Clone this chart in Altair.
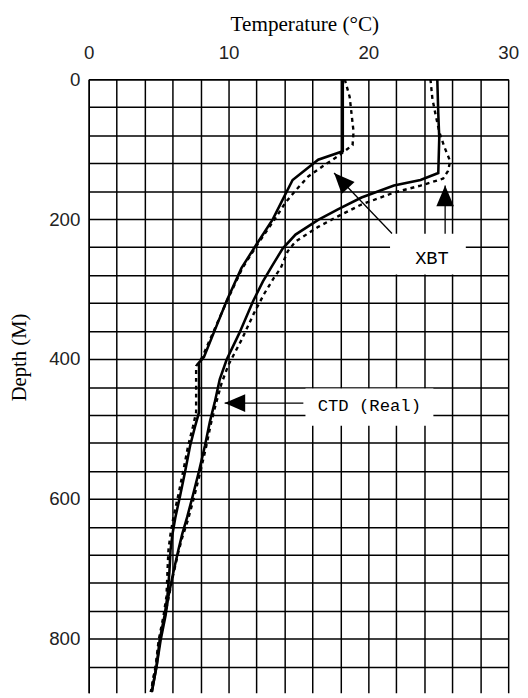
import altair as alt
import pandas as pd

# ---- data (temperature °C, depth m) ----
ctd1_t = [18.17, 18.17, 16.41, 14.58, 13.87, 13.17, 11.97, 10.92, 9.86, 9.01, 8.24, 7.89, 7.89, 7.61, 7.25,
          6.90, 6.55, 6.20, 5.99, 5.85, 5.77, 5.63, 5.42, 5.07, 4.86, 4.51]
ctd1_d = [0, 103, 115, 144, 172, 200, 237, 270, 317, 359, 397, 405, 476, 496, 524,
          560, 594, 626, 650, 673, 704, 739, 767, 802, 838, 876]

xbt1_t = [18.31, 18.66, 18.94, 18.87, 17.82, 16.76, 15.70, 14.79, 14.08, 13.31, 12.04, 10.99, 9.86, 8.94, 8.10,
          7.68, 7.68, 7.46, 7.11, 6.76, 6.41, 6.06, 5.85, 5.70, 5.63, 5.56, 5.35, 5.00, 4.79, 4.44]
xbt1_d = [0, 25, 75, 94, 110, 124, 139, 159, 176, 200, 237, 270, 318, 360, 398,
          410, 476, 496, 524, 560, 594, 626, 650, 673, 704, 739, 767, 802, 838, 876]

ctd2_t = [24.93, 25.00, 25.07, 25.00, 23.73, 21.83, 19.51, 17.82, 16.41, 14.79, 13.87, 13.17, 12.46, 11.76, 10.77,
          9.86, 9.37, 9.01, 8.66, 8.31, 7.89, 7.46, 7.04, 6.69, 6.41, 6.06, 5.70, 5.49, 5.14, 4.86, 4.51]
ctd2_d = [0, 49, 84, 134, 144, 152, 169, 186, 201, 222, 242, 265, 289, 317, 363,
          401, 429, 462, 490, 524, 560, 594, 626, 650, 673, 704, 739, 767, 802, 838, 876]

xbt2_t = [24.44, 24.58, 24.79, 25.07, 25.42, 25.85, 25.70, 25.35, 23.73, 21.83, 19.51, 17.82, 16.41, 14.79, 14.23,
          13.73, 13.24, 12.54, 11.83, 10.92, 10.00, 9.51, 9.08, 8.73, 8.38, 7.96, 7.54, 7.11, 6.69, 6.41,
          6.06, 5.70, 5.42, 5.07, 4.79, 4.44]
xbt2_d = [0, 28, 49, 75, 96, 117, 131, 142, 152, 162, 179, 196, 211, 232, 246,
          270, 284, 307, 334, 373, 408, 434, 465, 493, 527, 563, 597, 629, 655, 676,
          707, 742, 770, 804, 839, 876]

x_grid = list(range(0, 31, 2))
y_grid = list(range(0, 841, 40))

# annotation boxes, labels and arrows (data coordinates)
box_x = [21.55, 15.5]
box_x2 = [26.97, 24.65]
box_y = [221, 442]
box_y2 = [279, 495.5]
label_text = ["XBT", "CTD (Real)"]
label_x = [24.55, 20.07]
label_y = [256, 467]
label_size = [19, 17.5]

shaft_x = [21.69, 25.49, 15.35]
shaft_y = [220.5, 221, 463]
shaft_x2 = [17.55, 25.49, 9.72]
shaft_y2 = [134, 152, 463]
head_x = [17.55, 25.49, 9.72]
head_y = [134, 152, 463]
head_angle = [317, 0, 270]

# ---- tables ----
rows = []
for name, ts, ds in [("CTD A", ctd1_t, ctd1_d), ("CTD B", ctd2_t, ctd2_d)]:
    for i, (t, d) in enumerate(zip(ts, ds)):
        rows.append({"series": name, "T": t, "D": d, "o": i})
ctd_df = pd.DataFrame(rows)
rows = []
for name, ts, ds in [("XBT A", xbt1_t, xbt1_d), ("XBT B", xbt2_t, xbt2_d)]:
    for i, (t, d) in enumerate(zip(ts, ds)):
        rows.append({"series": name, "T": t, "D": d, "o": i})
xbt_df = pd.DataFrame(rows)

box_df = pd.DataFrame({"x": box_x, "x2": box_x2, "y": box_y, "y2": box_y2})
lab_df = pd.DataFrame({"text": label_text, "x": label_x, "y": label_y, "s": label_size})
shaft_df = pd.DataFrame({"x": shaft_x, "y": shaft_y, "x2": shaft_x2, "y2": shaft_y2})
head_df = pd.DataFrame({"x": head_x, "y": head_y, "a": head_angle})

xs = alt.Scale(domain=[0, 30], nice=False, zero=False)
ys = alt.Scale(domain=[0, 877], reverse=True, nice=False, zero=False)

x_axis = alt.Axis(
    orient="top", values=x_grid, tickCount=200, format="d", grid=True, gridColor="#000", gridWidth=1.5, gridOpacity=1,
    domain=True, domainColor="#000", domainWidth=1.5, ticks=False, tickSize=0,
    labelExpr="datum.value % 10 == 0 ? datum.label : ''", labelOverlap=False,
    labelFont="Liberation Sans", labelFontSize=19, labelColor="#222",
    labelBaseline="middle", labelPadding=27, labelFlush=False,
    title="Temperature (°C)", titleFont="Liberation Serif", titleFontSize=21.5,
    titleFontWeight="normal", titleColor="#000", titleX=219, titleY=-56,
    titleAlign="center", titleBaseline="middle",
)
y_axis = alt.Axis(
    orient="left", values=y_grid, tickCount=200, format="d", grid=True, gridColor="#000", gridWidth=1.5, gridOpacity=1,
    domain=True, domainColor="#000", domainWidth=1.5, ticks=False, tickSize=0,
    labelExpr="datum.value % 200 == 0 ? datum.label : ''", labelOverlap=False,
    labelFont="Liberation Sans", labelFontSize=19, labelColor="#222",
    labelBaseline="middle", labelAlign="right", labelPadding=9, labelFlush=False,
    title="Depth (M)", titleFont="Liberation Serif", titleFontSize=21,
    titleFontWeight="normal", titleColor="#000", titleAngle=270, titleX=-70, titleY=282,
    titleAlign="center", titleBaseline="middle",
)

ctd = alt.Chart(ctd_df).mark_line(color="#000", strokeWidth=2.6).encode(
    x=alt.X("T:Q", scale=xs, axis=x_axis),
    y=alt.Y("D:Q", scale=ys, axis=y_axis),
    detail="series:N",
    order="o:Q",
)
xbt = alt.Chart(xbt_df).mark_line(color="#000", strokeWidth=2.4, strokeDash=[4, 4]).encode(
    x=alt.X("T:Q", scale=xs),
    y=alt.Y("D:Q", scale=ys),
    detail="series:N",
    order="o:Q",
)
boxes = alt.Chart(box_df).mark_rect(fill="white", stroke=None).encode(
    x=alt.X("x:Q", scale=xs), x2="x2:Q",
    y=alt.Y("y:Q", scale=ys), y2="y2:Q",
)
labels = alt.Chart(lab_df).mark_text(font="Liberation Mono", color="#000",
                                     align="center", baseline="middle").encode(
    x=alt.X("x:Q", scale=xs), y=alt.Y("y:Q", scale=ys), text="text:N",
    size=alt.Size("s:Q", scale=None),
)
shafts = alt.Chart(shaft_df).mark_rule(color="#000", strokeWidth=1.3).encode(
    x=alt.X("x:Q", scale=xs), y=alt.Y("y:Q", scale=ys), x2="x2:Q", y2="y2:Q",
)
heads = alt.Chart(head_df).mark_point(
    shape="M0,0L-0.47,1.1L0.47,1.1Z", filled=True, fill="#000", stroke=None,
    size=1444, opacity=1,
).encode(
    x=alt.X("x:Q", scale=xs), y=alt.Y("y:Q", scale=ys),
    angle=alt.Angle("a:Q", scale=None),
)

chart = alt.layer(boxes, ctd, xbt, shafts, heads, labels).properties(
    width=426, height=623,
    autosize=alt.AutoSizeParams(type="none"),
    padding={"left": 82, "top": 67, "right": 12, "bottom": 0},
).configure_view(stroke=None)

chart.save("out.html", embed_options={"renderer": "svg", "actions": False})
